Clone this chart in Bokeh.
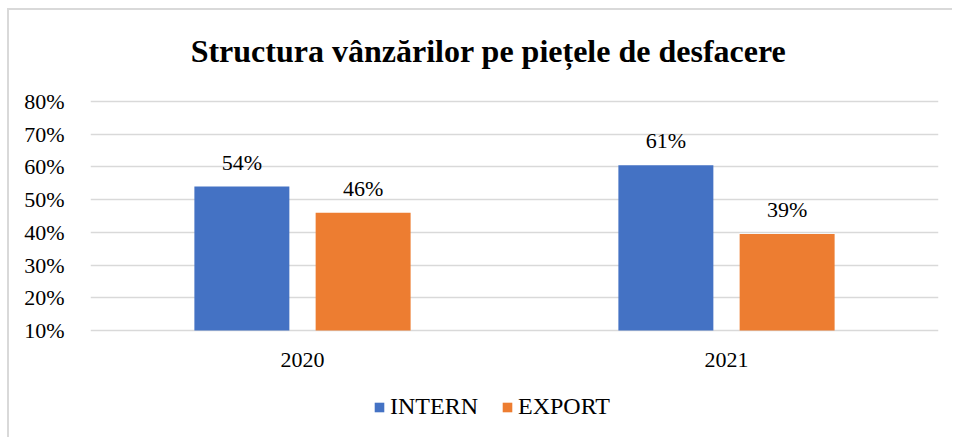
from bokeh.plotting import figure
from bokeh.models import ColumnDataSource, FactorRange, Label, Legend, LegendItem, NumeralTickFormatter, FixedTicker
from bokeh.transform import dodge
from bokeh.core.properties import value
from bokeh.embed import file_html
from bokeh.resources import INLINE

years = ["2020", "2021"]
intern = [0.54, 0.605]
export = [0.46, 0.395]
intern_labels = ["54%", "61%"]
export_labels = ["46%", "39%"]
y_ticks = [0.1, 0.2, 0.3, 0.4, 0.5, 0.6, 0.7, 0.8]
title_text = "Structura vânzărilor pe piețele de desfacere"

FONT = "'Liberation Serif', 'Times New Roman', serif"
BLUE = "#4472C4"
ORANGE = "#ED7D31"
GRID = "#D9D9D9"

src = ColumnDataSource(dict(year=years, intern=intern, export=export,
                            il=intern_labels, el=export_labels))

OX, OY = 9, 10                 # content origin inside the light grey chart border
W, H = 954 - OX, 439 - OY
FL, FR = 90 - OX, 938 - OX     # frame left / right (grid extent)
FT, FB = 12 - OY, 425 - OY     # frame extended up (title) and down (legend)
Y80, Y10 = 101 - OY, 330 - OY  # pixel rows of 80% and 10% lines
y_top, y_base = 0.8, 0.1
k = (y_top - y_base) / (Y10 - Y80)
y_end = y_top + (Y80 - FT) * k
y_start = y_base - (FB - Y10) * k

p = figure(x_range=FactorRange(*years), y_range=(y_start, y_end), width=W, height=H,
           output_backend="svg", toolbar_location=None,
           min_border_left=FL, min_border_right=W - FR, min_border_top=FT, min_border_bottom=H - FB)
p.x_range.range_padding = 0
p.outline_line_color = None
p.border_fill_color = "white"
p.styles = {"margin-left": "7px", "margin-top": "8px",
            "border-left": "2px solid #D9D9D9", "border-top": "2px solid #D9D9D9"}

r1 = p.vbar(x=dodge("year", -0.143, range=p.x_range), top="intern", bottom=y_base, width=0.224,
            source=src, fill_color=BLUE, line_color=None)
r2 = p.vbar(x=dodge("year", 0.143, range=p.x_range), top="export", bottom=y_base, width=0.224,
            source=src, fill_color=ORANGE, line_color=None)

p.text(x=dodge("year", -0.143, range=p.x_range), y="intern", text="il", source=src,
       text_font=value(FONT), text_font_size="22px", text_align="center",
       text_baseline="bottom", y_offset=-12, text_color="#000000")
p.text(x=dodge("year", 0.143, range=p.x_range), y="export", text="el", source=src,
       text_font=value(FONT), text_font_size="22px", text_align="center",
       text_baseline="bottom", y_offset=-12, text_color="#000000")

p.yaxis.ticker = FixedTicker(ticks=y_ticks)
p.yaxis.formatter = NumeralTickFormatter(format="0%")
for ax in (p.xaxis[0], p.yaxis[0]):
    ax.axis_line_color = None
    ax.major_tick_line_color = None
    ax.minor_tick_line_color = None
    ax.major_label_text_font = FONT
    ax.major_label_text_font_size = "22px"
    ax.major_label_text_color = "#000000"
p.yaxis.major_label_standoff = 20
p.xaxis.major_label_standoff = Y10 - FB + 16
p.xgrid.grid_line_color = None
p.ygrid.grid_line_color = GRID
p.ygrid.grid_line_width = 1.5

title = Label(x=488 - 90, y=FB - (50 - OY), x_units="screen", y_units="screen", text=title_text,
              text_font=FONT, text_font_size="32px", text_font_style="bold",
              text_align="center", text_baseline="middle", text_color="#000000")
p.add_layout(title)

legend = Legend(items=[LegendItem(label="INTERN", renderers=[r1]),
                       LegendItem(label="EXPORT", renderers=[r2])],
                orientation="horizontal", location=(283, 5),
                label_text_font=FONT, label_text_font_size="24px", label_text_color="#000000",
                glyph_width=12, glyph_height=12, label_standoff=5, spacing=23,
                padding=0, margin=0, border_line_color=None, background_fill_alpha=0)
p.add_layout(legend, "center")

open("out.html", "w").write(file_html(p, INLINE))
